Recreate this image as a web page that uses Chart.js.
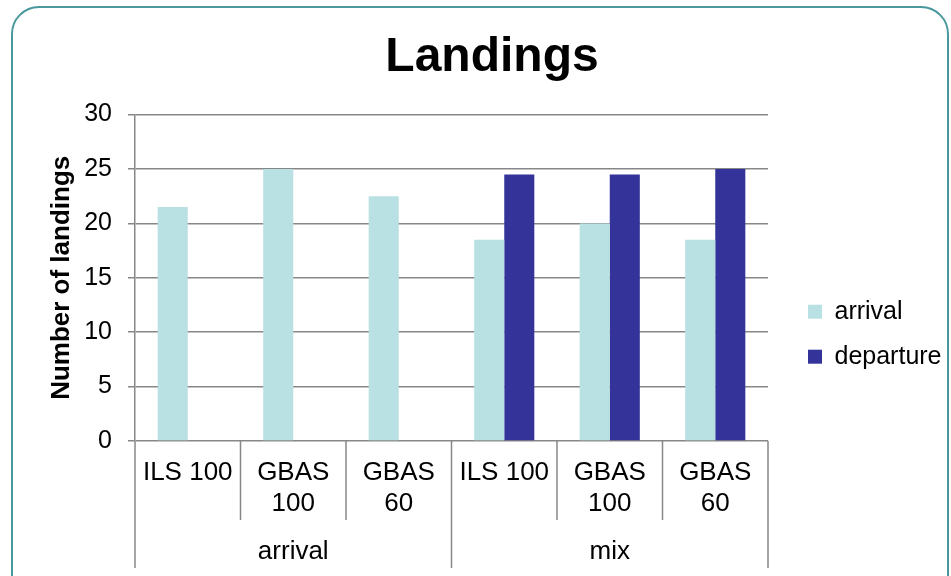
<!DOCTYPE html>
<html>
<head>
<meta charset="utf-8">
<script src="https://cdn.jsdelivr.net/npm/chart.js@4/dist/chart.umd.min.js"></script>
<style>
  html, body { margin: 0; padding: 0; width: 951px; height: 576px; overflow: hidden; background: #fff; }
  #frame { position: absolute; left: 11px; top: 6px; width: 934px; height: 620px;
           border: 2px solid #4a989c; border-radius: 28px; }
  #landingsChart { position: absolute; left: 36px; top: 0; }
</style>
</head>
<body>
<div id="frame"></div>
<canvas id="landingsChart" width="912" height="576"></canvas>
<script>
  // categories / series
  let categoryLabels = ['ILS 100', ['GBAS', '100'], ['GBAS', '60'], 'ILS 100', ['GBAS', '100'], ['GBAS', '60']];
  let groupLabels = ['arrival', 'mix'];
  let groupSizes = [3, 3];
  let arrivalValues = [21.5, 25, 22.5, 18.5, 20, 18.5];
  let departureValues = [null, null, null, 24.5, 24.5, 25];
  let yMax = 30;
  let yStep = 5;

  let fontFamily = "'Liberation Sans', Arial, sans-serif";
  let gridColor = '#878787';

  /**************Group separators under the x axis**************/
  let separators = {
    id: 'separators',
    afterDraw(chart) {
      let x = chart.scales.x;
      let x2 = chart.scales.x2;
      let ctx = chart.ctx;
      let n = categoryLabels.length;
      let half = (x.getPixelForTick(1) - x.getPixelForTick(0)) / 2;
      let edges = [0];
      let sum = 0;
      for (let g = 0; g < groupSizes.length; g++) { sum += groupSizes[g]; edges.push(sum); }
      ctx.save();
      ctx.strokeStyle = gridColor;
      ctx.lineWidth = 1.5;
      for (let i = 0; i <= n; i++) {
        let px = i < n ? x.getPixelForTick(i) - half : x.getPixelForTick(n - 1) + half;
        let bottom = edges.includes(i) ? x2.bottom - 8 : x.bottom + 1;
        ctx.beginPath();
        ctx.moveTo(px, x.top);
        ctx.lineTo(px, bottom);
        ctx.stroke();
      }
      ctx.restore();
    }
  };

  let ctx = document.getElementById('landingsChart').getContext('2d');
  let myChart = new Chart(ctx, {
    type: 'bar',
    data: {
      labels: categoryLabels,
      datasets: [
        { label: 'arrival', data: arrivalValues, backgroundColor: '#b9e0e3',
          categoryPercentage: 0.57, barPercentage: 1.0 },
        { label: 'departure', data: departureValues, backgroundColor: '#343399',
          categoryPercentage: 0.57, barPercentage: 1.0 }
      ]
    },
    options: {
      responsive: false,
      animation: false,
      layout: { padding: 0 },
      plugins: {
        title: {
          display: true, text: 'Landings', color: '#000',
          font: { family: fontFamily, size: 48, weight: 'bold' },
          padding: { top: 29, bottom: 28 }
        },
        legend: {
          position: 'right',
          title: { display: true, text: ' ', font: { size: 12 }, padding: { top: 0, bottom: 78 } },
          labels: {
            color: '#000', boxWidth: 14, boxHeight: 14, padding: 20,
            font: { family: fontFamily, size: 25 }
          }
        },
        tooltip: { enabled: false }
      },
      scales: {
        x: {
          offset: true,
          grid: { display: false, drawTicks: false, offset: true },
          border: { display: false },
          ticks: { color: '#000', padding: 16, maxRotation: 0, autoSkip: false,
                   font: { family: fontFamily, size: 26 } },
          afterFit: s => { s.height = 78; }
        },
        x2: {
          type: 'category',
          labels: groupLabels,
          position: 'bottom',
          offset: true,
          grid: { display: false, drawTicks: false, offset: true },
          border: { display: false },
          ticks: { color: '#000', padding: 17, maxRotation: 0,
                   font: { family: fontFamily, size: 26 } },
          afterFit: s => { s.height = 57; }
        },
        y: {
          min: 0, max: yMax,
          ticks: { stepSize: yStep, color: '#000', padding: 16,
                   font: { family: fontFamily, size: 25 } },
          grid: { color: gridColor, lineWidth: 1.5, tickLength: 7 },
          border: { display: true, color: gridColor, width: 1.5 },
          title: { display: true, text: 'Number of landings', color: '#000',
                   font: { family: fontFamily, size: 26, weight: 'bold' },
                   padding: { top: 10, bottom: 0 } },
          afterFit: s => { s.width = 99; }
        },
        yR: {
          type: 'linear', position: 'right', display: true,
          grid: { display: false, drawTicks: false },
          border: { display: false },
          ticks: { display: false },
          afterFit: s => { s.width = 20; }
        }
      }
    },
    plugins: [separators]
  });

  /**************Give the legend a little room so its text is not clipped**************/
  let legendFit = myChart.legend.fit;
  myChart.legend.fit = function() {
    legendFit.call(this);
    this.width += 8;
  };
  myChart.update();
</script>
</body>
</html>
